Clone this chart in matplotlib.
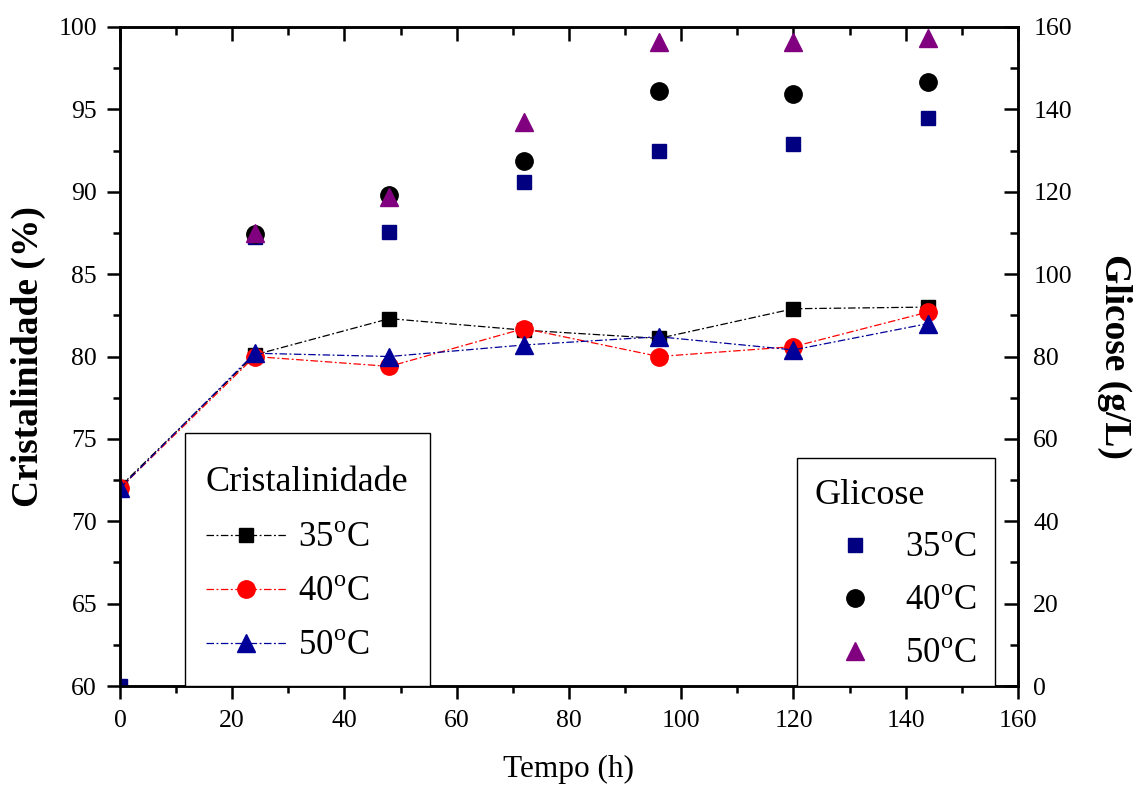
import matplotlib
matplotlib.use("Agg")
import matplotlib.pyplot as plt
from matplotlib.lines import Line2D
from matplotlib.patches import Rectangle
from matplotlib.ticker import MultipleLocator

plt.rcParams['font.family'] = ['Liberation Serif', 'DejaVu Serif']
plt.rcParams['mathtext.fontset'] = 'custom'
plt.rcParams['mathtext.rm'] = 'Liberation Serif'

nan = float('nan')
tempo = [0, 24, 48, 72, 96, 120, 144]
crist_35 = [72.1, 80.1, 82.3, 81.6, 81.1, 82.9, 83.0]
crist_40 = [72.0, 80.0, 79.4, 81.7, 80.0, 80.6, 82.7]
crist_50 = [72.0, 80.2, 80.0, 80.7, 81.2, 80.4, 82.0]
glic_35 = [0, 109.0, 110.2, 122.4, 130.0, 131.5, 138.0]
glic_40 = [nan, 109.7, 119.2, 127.5, 144.4, 143.7, 146.7]
glic_50 = [nan, 109.9, 118.7, 136.9, 156.3, 156.4, 157.4]
labels = ["35$^{\\mathrm{o}}$C", "40$^{\\mathrm{o}}$C", "50$^{\\mathrm{o}}$C"]

fig = plt.figure(figsize=(11.34, 7.87), dpi=100)
ax = fig.add_axes([0.1058, 0.1283, 0.7919, 0.8374])
ax2 = ax.twinx()

ls = (0, (6, 2, 1.5, 2))
MS_S, MS_O, MS_T = 10.5, 12.5, 13.5
ax.plot(tempo, crist_35, color='black', ls=ls, lw=0.9, marker='s', ms=MS_S, zorder=3)
ax.plot(tempo, crist_40, color='#ff0000', ls=ls, lw=0.9, marker='o', ms=MS_O, zorder=3)
ax.plot(tempo, crist_50, color='#000099', ls=ls, lw=0.9, marker='^', ms=MS_T, zorder=3)

ax2.plot(tempo, glic_35, ls='none', color='#000080', marker='s', ms=MS_S)
ax2.plot(tempo, glic_40, ls='none', color='black', marker='o', ms=MS_O)
ax2.plot(tempo, glic_50, ls='none', color='#800080', marker='^', ms=MS_T)

ax.set_xlim(0, 160)
ax.set_ylim(60, 100)
ax2.set_ylim(0, 160)
ax.xaxis.set_major_locator(MultipleLocator(20))
ax.xaxis.set_minor_locator(MultipleLocator(10))
ax.yaxis.set_major_locator(MultipleLocator(5))
ax.yaxis.set_minor_locator(MultipleLocator(2.5))
ax2.yaxis.set_major_locator(MultipleLocator(20))
ax2.yaxis.set_minor_locator(MultipleLocator(10))

for a in (ax, ax2):
    for s in a.spines.values():
        s.set_linewidth(1.8)

# bottom / left ticks outward
ax.tick_params(axis='x', which='both', direction='out', top=False, bottom=True,
               labelsize=18.5, width=1.8, pad=8)
ax.tick_params(axis='y', which='both', direction='out', left=True, right=False,
               labelsize=18.5, width=1.8, pad=7)
ax.tick_params(which='major', length=9.5)
ax.tick_params(which='minor', length=5)

# top / right ticks inward
ax2.xaxis.set_visible(True)
ax2.tick_params(axis='x', which='both', direction='in', top=True, bottom=False,
                labeltop=False, labelbottom=False, width=1.8)
ax2.tick_params(axis='y', which='both', direction='in', labelsize=18.5, width=1.8, pad=11)
ax2.tick_params(which='major', length=10)
ax2.tick_params(which='minor', length=5.5)

ax.set_xlabel("Tempo (h)", fontsize=22.5, labelpad=16)
ax.set_ylabel("Cristalinidade (%)", fontsize=27, fontweight='bold', labelpad=9)
ax2.set_ylabel("Glicose (g/L)", fontsize=27, fontweight='bold', labelpad=18,
               rotation=270, va='bottom')

# legend boxes
ax2.add_patch(Rectangle((0.0724, 0.0), 0.2728, 0.384, transform=ax2.transAxes,
                        fill=True, facecolor='white', edgecolor='black', lw=1.0, zorder=4))
ax2.add_patch(Rectangle((0.754, 0.0), 0.22, 0.346, transform=ax2.transAxes,
                        fill=True, facecolor='white', edgecolor='black', lw=1.0, zorder=4))

h1 = [Line2D([], [], color='black', ls=ls, lw=0.9, marker='s', ms=MS_S),
      Line2D([], [], color='#ff0000', ls=ls, lw=0.9, marker='o', ms=MS_O),
      Line2D([], [], color='#000099', ls=ls, lw=0.9, marker='^', ms=MS_T)]
leg1 = ax2.legend(h1, labels, title="Cristalinidade", loc='upper left',
                  bbox_to_anchor=(0.0724, 0.3658), borderaxespad=0, frameon=False,
                  fontsize=25, title_fontsize=26, handlelength=2.3, handletextpad=0.35,
                  labelspacing=0.6, borderpad=0.6, alignment='left')
leg1._legend_box.sep = 17
leg1.set_zorder(5)
ax2.add_artist(leg1)

h2 = [Line2D([], [], ls='none', color='#000080', marker='s', ms=MS_S),
      Line2D([], [], ls='none', color='black', marker='o', ms=MS_O),
      Line2D([], [], ls='none', color='#800080', marker='^', ms=MS_T)]
leg2 = ax2.legend(h2, labels, title="Glicose", loc='upper left',
                  bbox_to_anchor=(0.7507, 0.346), borderaxespad=0, frameon=False,
                  fontsize=25, title_fontsize=26, handlelength=2.3, handletextpad=0.3,
                  labelspacing=0.58, borderpad=0.6, alignment='left')
leg2.set_zorder(5)

fig.savefig("out.png", dpi=100)
